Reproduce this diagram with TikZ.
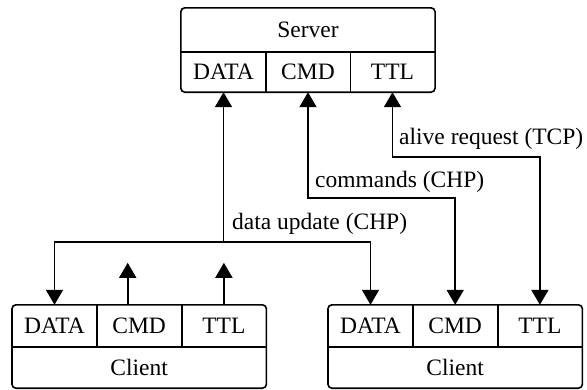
\documentclass[tikz,border=0pt]{standalone}
\usepackage{fontspec}
\setmainfont{Liberation Serif}
\newfontfamily\diagfont{Liberation Serif}
\usetikzlibrary{arrows.meta}
\tikzset{
  cell/.style={draw=none, inner sep=0pt, minimum width=84.7pt, minimum height=#1, font=\diagfont\fontsize{23.5}{28}\selectfont},
  cell/.default=40pt,
  boxline/.style={line width=1.6pt, rounded corners=4pt},
  divline/.style={line width=1.6pt},
  conn/.style={line width=1.8pt, -{Triangle[length=15pt,width=17pt]}},
  conn2/.style={line width=1.8pt, {Triangle[length=15pt,width=17pt]}-{Triangle[length=15pt,width=17pt]}},
  lbl/.style={anchor=base west, inner sep=0pt, font=\diagfont\fontsize{23.5}{28}\selectfont}
}
\begin{document}
\begin{tikzpicture}[x=1pt,y=-1pt]
\useasboundingbox (0,0) rectangle (587,389);
% Server
\node[cell, minimum width=254pt, minimum height=44pt] (sT) at (308,30) {Server};
\node[cell] (sD) at (223.5,72) {DATA};
\node[cell] (sC) at (308,72) {CMD};
\node[cell] (sL) at (392.5,72) {TTL};
\draw[boxline] (sT.north west) rectangle (sL.south east);
\draw[divline] (sD.north west) -- (sL.north east);
\draw[divline] (sD.north east) -- (sD.south east);
\draw[divline] (sC.north east) -- (sC.south east);
% Left client
\node[cell, minimum height=42pt] (lD) at (54.5,326) {DATA};
\node[cell, minimum height=42pt] (lC) at (139.2,326) {CMD};
\node[cell, minimum height=42pt] (lL) at (223.9,326) {TTL};
\node[cell, minimum width=254pt, minimum height=41pt] (lT) at (139.2,367.5) {Client};
\draw[boxline] (lD.north west) rectangle (lT.south east);
\draw[divline] (lT.north west) -- (lT.north east);
\draw[divline] (lD.north east) -- (lD.south east);
\draw[divline] (lC.north east) -- (lC.south east);
% Right client
\node[cell, minimum height=42pt] (rD) at (370.5,326) {DATA};
\node[cell, minimum height=42pt] (rC) at (455.2,326) {CMD};
\node[cell, minimum height=42pt] (rL) at (539.9,326) {TTL};
\node[cell, minimum width=254pt, minimum height=41pt] (rT) at (455.2,367.5) {Client};
\draw[boxline] (rD.north west) rectangle (rT.south east);
\draw[divline] (rT.north west) -- (rT.north east);
\draw[divline] (rD.north east) -- (rD.south east);
\draw[divline] (rC.north east) -- (rC.south east);
% Connectors
\coordinate (j) at (223.5,242);
\draw[conn] (j) -- (sD.south);
\draw[conn] (j) -| (lD.north);
\draw[conn] (j) -| (rD.north);
\coordinate (cmdbend) at (308,198);
\draw[conn2] (sC.south) -- (cmdbend) -| (rC.north);
\coordinate (ttlbend) at (392.5,157);
\draw[conn2] (sL.south) -- (ttlbend) -| (rL.north);
\draw[conn] ([xshift=-11.5pt]lC.north) -- ++(0,-42);
\draw[conn] (lL.north) -- ++(0,-42);
% Labels
\node[lbl] (l1) at (232,229) {data update (CHP)};
\node[lbl] (l2) at (315,187) {commands (CHP)};
\node[lbl] (l3) at (399,144) {alive request (TCP)};
\end{tikzpicture}
\end{document}
